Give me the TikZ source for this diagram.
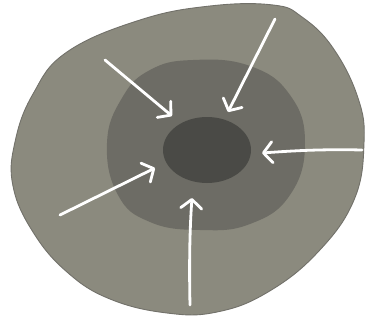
\documentclass[tikz,border=0pt]{standalone}
\usetikzlibrary{arrows.meta}
\definecolor{outerc}{HTML}{8B8A7E}
\definecolor{outeredge}{HTML}{72716A}
\definecolor{midc}{HTML}{6D6C65}
\definecolor{innerc}{HTML}{4A4A46}
\tikzset{
  inarrow/.style={draw=white, line width=2.8pt, line cap=round, line join=round,
    -{Straight Barb[length=9pt,width=21pt,line cap=round,line join=round]}},
}
\begin{document}
\begin{tikzpicture}[x=1pt,y=-1pt]
\useasboundingbox (0,0) rectangle (365,324);
\fill[white] (0,0) rectangle (365,324);
% outer blob
\draw[fill=outerc, draw=outeredge, line width=0.9pt]
  plot[smooth cycle, tension=0.7] coordinates {
    (273,5) (302,17) (333,48) (358,98) (364,143) (354,200) (318,252)
    (268,292) (217,312) (167,313) (110,299) (67,272) (33,232) (13,186)
    (15,142) (33,94) (67,52) (140,20) (210,6)};
% middle zone
\fill[midc] plot[smooth cycle, tension=0.75] coordinates {
    (193,60) (250,66) (290,95) (305,143) (290,195) (250,224) (200,230)
    (150,222) (118,195) (107,143) (122,98) (150,70)};
% inner core
\fill[innerc] (207,150) ellipse [x radius=44, y radius=33];
% arrow endpoints
\coordinate (a1s) at (105,60);  \coordinate (a1e) at (172,116);
\coordinate (a2s) at (275,19);  \coordinate (a2e) at (228,112);
\coordinate (a3s) at (362,150); \coordinate (a3e) at (262,153);
\coordinate (a4s) at (60,215);  \coordinate (a4e) at (155,168);
\coordinate (a5s) at (190,305); \coordinate (a5e) at (192,198);
\draw[inarrow] (a1s) -- (a1e);
\draw[inarrow] (a2s) -- (a2e);
\draw[inarrow] (a3s) .. controls (320,149) and (290,151) .. (a3e);
\draw[inarrow] (a4s) -- (a4e);
\draw[inarrow] (a5s) .. controls (189,260) and (190,225) .. (a5e);
\end{tikzpicture}
\end{document}
